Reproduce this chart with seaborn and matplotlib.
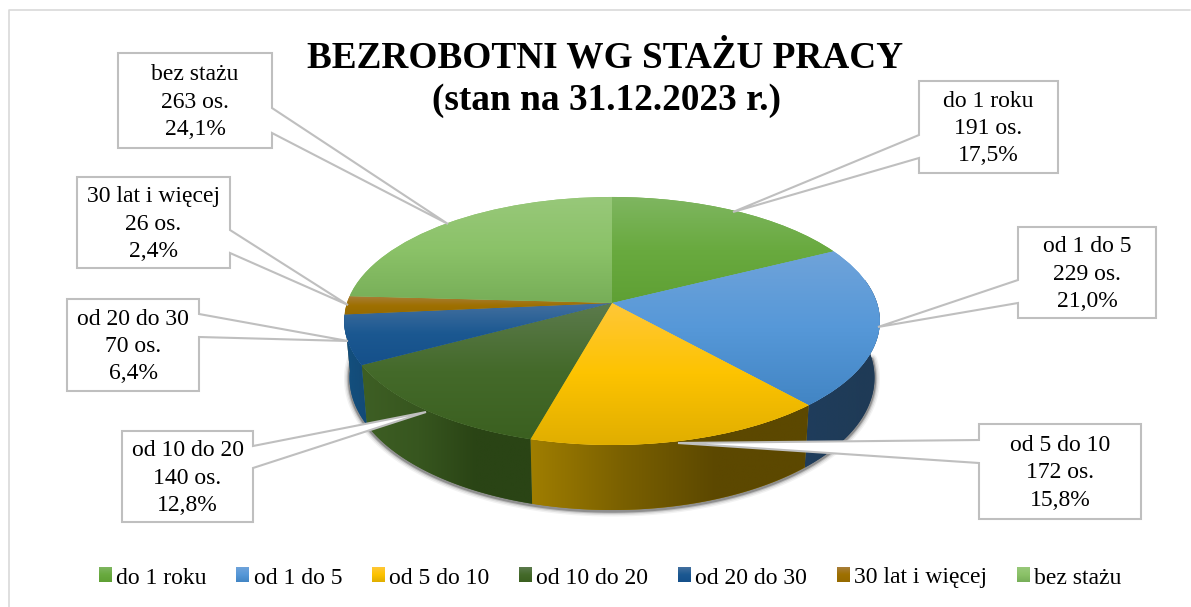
import numpy as np
import seaborn as sns
import matplotlib
matplotlib.use("Agg")
import matplotlib.pyplot as plt
from matplotlib.patches import Patch, Polygon
from matplotlib.transforms import Transform

categories = ["do 1 roku", "od 1 do 5", "od 5 do 10", "od 10 do 20",
              "od 20 do 30", "30 lat i więcej", "bez stażu"]
counts = [191, 229, 172, 140, 70, 26, 263]
percents = ["17,5", "21,0", "15,8", "12,8", "6,4", "2,4", "24,1"]

# top face gradients, top to bottom of each slice
top_colors = [
    ["#7fb661", "#69aa3f", "#5fa034"],
    ["#6fa3da", "#5698d8", "#4285c4"],
    ["#ffc738", "#fdc300", "#e0ae00"],
    ["#5c7b4d", "#446a2a", "#3b6020"],
    ["#44709f", "#1b5891", "#15508a"],
    ["#a87e3a", "#9e7000", "#966a00"],
    ["#98c87a", "#8bc268", "#77ae58"],
]
# side wall gradients, left to right
side_colors = [
    ["#4d7f2e", "#3f6a25"],
    ["#1f3d5c", "#1f3a55"],
    ["#a07e00", "#7a6000", "#5c4800", "#5c4800"],
    ["#3e5f24", "#37561f", "#2a4415", "#2a4415"],
    ["#13507f", "#134a76"],
    ["#7a5800", "#6a4c00"],
    ["#6b9a4c", "#5d8a40"],
]

# label box: left, top, right, bottom, y of the two pointer roots, pointer tip
callouts = [
    (919, 81, 1058, 173, 135, 158, (733, 212)),
    (1018, 227, 1156, 318, 280, 303, (878, 327)),
    (979, 424, 1141, 519, 440, 463, (678, 443)),
    (122, 431, 253, 522, 446, 468, (426, 412)),
    (67, 299, 199, 391, 314, 337, (348, 341)),
    (77, 177, 230, 268, 230, 253, (348, 305)),
    (118, 53, 272, 148, 108, 133, (448, 224)),
]

CX, CY = 612, 303
AX_X, AX_Y, K = 265, 121.4, 0.145
DEPTH = 55.6
GREY = "#bfbfbf"
SERIF = "Liberation Serif"


class Perspective(Transform):
    # tilted disc: unit pie coordinates to picture pixels
    input_dims = 2
    output_dims = 2

    def transform_non_affine(self, xy):
        xy = np.asarray(xy, dtype=float)
        w = 1 / (1 + K * xy[:, 1])
        return np.column_stack([CX + AX_X * xy[:, 0] * w, CY - AX_Y * xy[:, 1] * w])


def rim(t1, t2, n=120):
    t = np.radians(np.linspace(t1, t2, n))
    return np.column_stack([np.cos(t), np.sin(t)])


def lower_rim(unit):
    top = proj.transform_non_affine(unit)
    w = 1 / (1 + K * unit[:, 1])
    return np.column_stack([CX + (top[:, 0] - CX) * 0.98, top[:, 1] + DEPTH * w])


def gradient(ax, colors, bounds, vertical=True, clip=None, zorder=2):
    cmap = sns.blend_palette(colors, n_colors=256, as_cmap=True)
    g = np.linspace(0, 1, 256)
    arr = g[:, None] if vertical else g[None, :]
    x0, x1, y0, y1 = bounds
    im = ax.imshow(arr, cmap=cmap, extent=(x0, x1, y1, y0), aspect="auto",
                   origin="upper", zorder=zorder, interpolation="bilinear")
    if clip is not None:
        im.set_clip_path(clip)
    return im


sns.set_theme(style="white")
plt.rcParams["font.family"] = [SERIF, "DejaVu Serif"]

fig = plt.figure(figsize=(11.91, 6.07), dpi=100)
ax = fig.add_axes([0, 0, 1, 1])
proj = Perspective()

wedges, _ = ax.pie(counts, startangle=90, counterclock=False, colors=[c[1] for c in top_colors],
                   wedgeprops={"linewidth": 0, "zorder": 2}, frame=True)

# soft shadow under the bottom edge
under = lower_rim(rim(-180, 0, 200))
for lw, a in [(8, 0.05), (6, 0.08), (4, 0.14), (2.5, 0.25)]:
    ax.plot(under[:, 0], under[:, 1] + 1, color="black", lw=lw, alpha=a, zorder=1,
            solid_capstyle="round")

# side walls, only the ones facing the viewer
for w, colors in zip(wedges, side_colors):
    unit = rim(w.theta1, w.theta2)
    keep = (unit[:, 1] < 0.2) & ~((unit[:, 0] < 0) & (unit[:, 1] > -0.09))
    unit = unit[keep]
    if len(unit) < 2:
        continue
    up = proj.transform_non_affine(unit)
    low = lower_rim(unit)
    wall = np.vstack([up, low[::-1]])
    poly = Polygon(wall, closed=True, facecolor=colors[0], edgecolor="none", zorder=1.5)
    ax.add_patch(poly)
    gradient(ax, colors, (wall[:, 0].min(), wall[:, 0].max(), wall[:, 1].min(), wall[:, 1].max()),
             vertical=False, clip=poly, zorder=1.6)

# top face
for w, colors in zip(wedges, top_colors):
    w.set_transform(proj + ax.transData)
    w.set_zorder(2)
    pts = proj.transform_non_affine(np.vstack([rim(w.theta1, w.theta2), [[0, 0]]]))
    gradient(ax, colors, (pts[:, 0].min(), pts[:, 0].max(), pts[:, 1].min(), pts[:, 1].max()),
             clip=w, zorder=2.1)

# callouts
for cat, n, p, box in zip(categories, counts, percents, callouts):
    l, t, r, b, y1, y2, tip = box
    if tip[0] < l:
        verts = [(l, t), (r, t), (r, b), (l, b), (l, y2), tip, (l, y1)]
    else:
        verts = [(l, t), (r, t), (r, y1), tip, (r, y2), (r, b), (l, b)]
    ax.add_patch(Polygon(verts, closed=True, facecolor="white", edgecolor=GREY, lw=1.5,
                         zorder=3, joinstyle="miter"))
    ax.text((l + r) / 2, (t + b) / 2 + 1.5, f"{cat}\n{n} os.\n{p}%", ha="center", va="center",
            fontsize=17, linespacing=1.38, color="black", zorder=4)

ax.text(605, 58, "BEZROBOTNI WG STAŻU PRACY", ha="center", va="center", fontsize=26.8,
        fontweight="bold", color="black")
ax.text(606, 100, "(stan na 31.12.2023 r.)", ha="center", va="center", fontsize=26.8,
        fontweight="bold", color="black")

# chart frame, only top and left are in the picture
ax.plot([9, 9, 1190], [607, 10, 10], color="#d9d9d9", lw=1.2, zorder=0.5)

ax.set_aspect("auto")
ax.set_xlim(0, 1191)
ax.set_ylim(607, 0)
ax.axis("off")

handles = [Patch(facecolor=c[1], label=cat) for cat, c in zip(categories, top_colors)]
leg = ax.legend(handles=handles, ncol=7, loc="center", bbox_to_anchor=(610, 578),
                bbox_transform=ax.transData, frameon=False, fontsize=17,
                handlelength=0.54, handleheight=0.54, handletextpad=0.2,
                columnspacing=1.25, borderpad=0, labelcolor="black")

fig.canvas.draw()
inv = ax.transData.inverted()
for patch, colors in zip(leg.get_patches(), top_colors):
    bb = patch.get_window_extent().transformed(inv)
    gradient(ax, colors, (bb.x0, bb.x1, min(bb.y0, bb.y1), max(bb.y0, bb.y1)), zorder=6)

ax.set_xlim(0, 1191)
ax.set_ylim(607, 0)
fig.savefig("out.png", dpi=100, facecolor="white")
